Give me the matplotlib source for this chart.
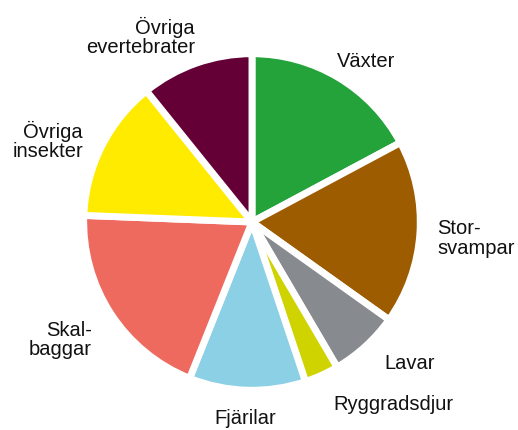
import matplotlib.pyplot as plt

# share of species per group (percent)
labels = ["Växter", "Stor-\nsvampar", "Lavar", "Ryggradsdjur", "Fjärilar",
          "Skal-\nbaggar", "Övriga\ninsekter", "Övriga\nevertebrater"]
values = [17.2, 17.7, 6.7, 3.3, 11.2, 19.6, 13.6, 10.8]
colors = ["#23a339", "#9e5c00", "#878a8f", "#cfd400", "#8cd0e6",
          "#ee6a5f", "#ffeb00", "#640036"]

plt.rcParams['font.family'] = ['Liberation Sans', 'DejaVu Sans']

fig = plt.figure(figsize=(5.18, 4.30), dpi=100)
ax = fig.add_axes([0, 0, 1, 1])

ax.pie(values, colors=colors, startangle=90, counterclock=False,
       radius=1.02, wedgeprops=dict(edgecolor="white", linewidth=5))

# label placement (data units, pie radius ~1)
lab_pos = [(0.69, 0.97, "center"), (1.125, -0.10, "left"), (0.958, -0.855, "center"),
           (0.855, -1.109, "center"), (-0.042, -1.188, "center"),
           (-0.97, -0.715, "right"), (-1.024, 0.491, "right"), (-0.345, 1.121, "right")]
for lab, (x, y, ha) in zip(labels, lab_pos):
    ax.text(x, y, lab, ha=ha, va="center", multialignment=ha,
            fontsize=14.5, linespacing=1.0, color="#111111")

ax.set_xlim(-252 / 165, (518 - 252) / 165)
ax.set_ylim((222 - 430) / 165, 222 / 165)
ax.set_aspect("equal")
ax.axis("off")

fig.savefig("out.png", dpi=100)
